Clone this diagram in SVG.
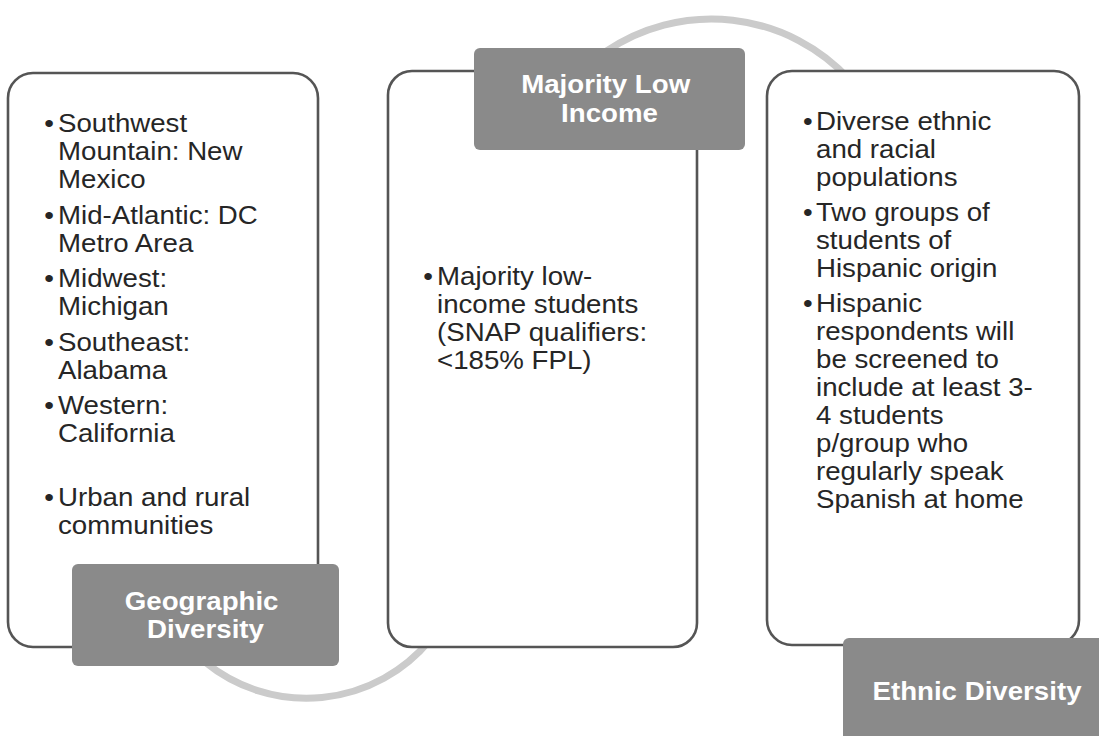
<svg xmlns="http://www.w3.org/2000/svg" width="1099" height="736" viewBox="0 0 1099 736">
  <style>
    .box { fill: #ffffff; stroke: #555555; stroke-width: 2.6; }
    .lbl { fill: #8a8a8a; }
    .arc { fill: none; stroke: #cbcbcb; stroke-width: 7; stroke-linecap: round; }
    .body { font-family: "Liberation Sans", Arial, sans-serif; font-size: 25.5px; fill: #262626; }
    .head { font-family: "Liberation Sans", Arial, sans-serif; font-size: 25.5px; font-weight: bold; fill: #ffffff; }
  </style>
  <rect width="1099" height="736" fill="#ffffff"/>

  <g id="connectors">
    <path class="arc" d="M 605 52 A 188 188 0 0 1 850 80"/>
    <path class="arc" d="M 205 662 A 160 160 0 0 0 430 640"/>
  </g>

  <g id="geographic">
    <rect class="box" x="8" y="73" width="310" height="574" rx="25"/>
    <text class="body" transform="translate(58 0) scale(1.085 1)">
      <tspan x="-8.3" y="132" text-anchor="middle">•</tspan><tspan x="0" y="132">Southwest</tspan>
      <tspan x="0" y="160">Mountain: New</tspan>
      <tspan x="0" y="188">Mexico</tspan>
      <tspan x="-8.3" y="224" text-anchor="middle">•</tspan><tspan x="0" y="224">Mid-Atlantic: DC</tspan>
      <tspan x="0" y="252">Metro Area</tspan>
      <tspan x="-8.3" y="287" text-anchor="middle">•</tspan><tspan x="0" y="287">Midwest:</tspan>
      <tspan x="0" y="315">Michigan</tspan>
      <tspan x="-8.3" y="351" text-anchor="middle">•</tspan><tspan x="0" y="351">Southeast:</tspan>
      <tspan x="0" y="379">Alabama</tspan>
      <tspan x="-8.3" y="414" text-anchor="middle">•</tspan><tspan x="0" y="414">Western:</tspan>
      <tspan x="0" y="442">California</tspan>
      <tspan x="-8.3" y="506" text-anchor="middle">•</tspan><tspan x="0" y="506">Urban and rural</tspan>
      <tspan x="0" y="534">communities</tspan>
    </text>
    <rect class="lbl" x="72" y="564" width="267" height="102" rx="6"/>
    <text class="head" text-anchor="middle" transform="translate(205.5 0) scale(1.085 1)">
      <tspan x="0" y="610">Geographic</tspan>
      <tspan x="0" y="638">Diversity</tspan>
    </text>
  </g>

  <g id="income">
    <rect class="box" x="388" y="71" width="309" height="576" rx="24"/>
    <text class="body" transform="translate(437 0) scale(1.085 1)">
      <tspan x="-8.3" y="285" text-anchor="middle">•</tspan><tspan x="0" y="285">Majority low-</tspan>
      <tspan x="0" y="313">income students</tspan>
      <tspan x="0" y="341">(SNAP qualifiers:</tspan>
      <tspan x="0" y="369">&lt;185% FPL)</tspan>
    </text>
    <rect class="lbl" x="474" y="48" width="271" height="102" rx="6"/>
    <text class="head" text-anchor="middle" transform="translate(609.5 0) scale(1.085 1)">
      <tspan x="0" y="93">Majority Low</tspan>
      <tspan x="0" y="122">Income</tspan>
    </text>
  </g>

  <g id="ethnic">
    <rect class="box" x="767" y="71" width="312" height="574" rx="25"/>
    <text class="body" transform="translate(816 0) scale(1.085 1)">
      <tspan x="-7.5" y="130" text-anchor="middle">•</tspan><tspan x="0" y="130">Diverse ethnic</tspan>
      <tspan x="0" y="158">and racial</tspan>
      <tspan x="0" y="186">populations</tspan>
      <tspan x="-7.5" y="221" text-anchor="middle">•</tspan><tspan x="0" y="221">Two groups of</tspan>
      <tspan x="0" y="249">students of</tspan>
      <tspan x="0" y="277">Hispanic origin</tspan>
      <tspan x="-7.5" y="312.5" text-anchor="middle">•</tspan><tspan x="0" y="312.5">Hispanic</tspan>
      <tspan x="0" y="340.5">respondents will</tspan>
      <tspan x="0" y="368.5">be screened to</tspan>
      <tspan x="0" y="396.5">include at least 3-</tspan>
      <tspan x="0" y="424.5">4 students</tspan>
      <tspan x="0" y="452.5">p/group who</tspan>
      <tspan x="0" y="480.5">regularly speak</tspan>
      <tspan x="0" y="508.5">Spanish at home</tspan>
    </text>
    <rect class="lbl" x="843" y="638" width="268" height="104" rx="6"/>
    <text class="head" text-anchor="middle" transform="translate(977 0) scale(1.085 1)">
      <tspan x="0" y="700">Ethnic Diversity</tspan>
    </text>
  </g>
</svg>
